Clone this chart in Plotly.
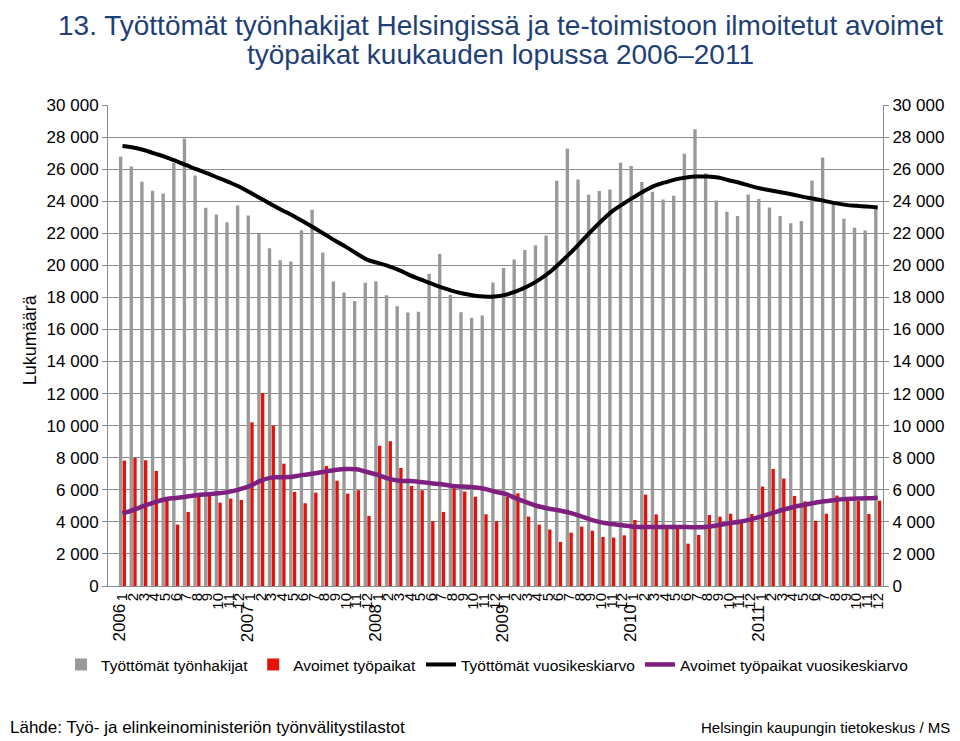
import plotly.graph_objects as go

years = [2006, 2007, 2008, 2009, 2010, 2011]
months = [str(m) for m in range(1, 13)]

unemployed = [
    26770, 26170, 25210, 24650, 24480, 26400, 27910, 25600, 23590, 23170, 22690, 23730,
    23110, 21960, 21070, 20320, 20240, 22190, 23460, 20800, 18990, 18300, 17780, 18910,
    19010, 18140, 17450, 17060, 17100, 19470, 20700, 18160, 17080, 16720, 16870, 18930,
    19840, 20360, 20950, 21260, 21860, 25270, 27270, 25360, 24400, 24630, 24730, 26400,
    26190, 25190, 24590, 24110, 24340, 26960, 28480, 25750, 24040, 23340, 23070, 24420,
    24130, 23610, 23070, 22630, 22760, 25290, 26730, 23860, 22900, 22340, 22170, 23570,
]
vacancies = [
    7820, 7990, 7840, 7180, 5370, 3830, 4620, 5580, 5660, 5200, 5450, 5370,
    10210, 12040, 10000, 7630, 5870, 5160, 5820, 7490, 6570, 5760, 5970, 4370,
    8740, 9030, 7360, 6240, 5970, 4040, 4620, 6100, 5890, 5570, 4470, 4040,
    5570, 5780, 4330, 3830, 3520, 2750, 3330, 3700, 3450, 3060, 3020, 3160,
    4120, 5700, 4470, 3650, 3700, 2640, 3180, 4430, 4330, 4510, 3950, 4490,
    6200, 7300, 6700, 5620, 5280, 4060, 4510, 5640, 5300, 5300, 4490, 5320,
]
unemployed_avg = [
    27440, 27350, 27190, 26980, 26770, 26520, 26250, 25980, 25730, 25460, 25190, 24900,
    24540, 24170, 23800, 23440, 23110, 22730, 22340, 21940, 21530, 21150, 20740, 20360,
    20150, 19950, 19700, 19390, 19120, 18870, 18620, 18410, 18240, 18120, 18050, 18050,
    18160, 18370, 18660, 19030, 19490, 20070, 20700, 21380, 22080, 22750, 23350, 23800,
    24220, 24620, 24960, 25170, 25360, 25480, 25540, 25540, 25480, 25310, 25150, 24960,
    24790, 24670, 24540, 24420, 24270, 24150, 24020, 23880, 23770, 23710, 23670, 23610,
]
vacancies_avg = [
    4530, 4740, 4990, 5220, 5410, 5490, 5570, 5660, 5720, 5780, 5870, 6030,
    6240, 6570, 6760, 6780, 6820, 6930, 7020, 7130, 7240, 7300, 7280, 7110,
    6930, 6700, 6570, 6550, 6490, 6410, 6340, 6240, 6200, 6160, 6070, 5890,
    5740, 5470, 5220, 4990, 4830, 4720, 4580, 4370, 4140, 3970, 3870, 3790,
    3700, 3680, 3680, 3680, 3680, 3680, 3660, 3700, 3790, 3910, 4010, 4140,
    4330, 4530, 4740, 4910, 5050, 5180, 5280, 5370, 5430, 5450, 5470, 5510,
]
y_ticks = list(range(0, 30001, 2000))
y_ticktext = [f"{v:,}".replace(",", " ") for v in y_ticks]

categories = [f"{y}-{m}" for y in years for m in months]
month_labels = [m for y in years for m in months]

FONT = "Liberation Sans, Arial, sans-serif"
GRID = "#8a8a8a"

fig = go.Figure()
fig.add_trace(go.Bar(x=categories, y=unemployed, name="Työttömät työnhakijat",
                     marker=dict(color="#999999", line_width=0)))
fig.add_trace(go.Bar(x=categories, y=vacancies, name="Avoimet työpaikat",
                     marker=dict(color="#E3120B", line_width=0)))
fig.add_trace(go.Scatter(x=categories, y=unemployed_avg, name="Työttömät vuosikeskiarvo",
                         mode="lines", line=dict(color="#000000", width=4, shape="spline"),
                         yaxis="y2"))
fig.add_trace(go.Scatter(x=categories, y=vacancies_avg, name="Avoimet työpaikat vuosikeskiarvo",
                         mode="lines", line=dict(color="#7F1F7F", width=4.5, shape="spline"),
                         yaxis="y2"))

axis_common = dict(range=[0, 30000], tickvals=y_ticks, ticktext=y_ticktext,
                   showline=True, linecolor=GRID, linewidth=1, ticks="outside",
                   ticklen=5, tickcolor=GRID, tickfont=dict(size=17, color="#000"),
                   zeroline=False)

# page body adds an 8px offset, so the figure is 8px smaller than the window
fig.update_layout(
    width=952, height=733,
    margin=dict(l=100, r=77, t=97, b=155),
    paper_bgcolor="white", plot_bgcolor="white",
    font=dict(family=FONT, color="#000"),
    barmode="group", bargap=0.3, bargroupgap=0.1,
    showlegend=True,
    legend=dict(orientation="h", x=-0.0606, xanchor="left", y=-0.164, yanchor="middle",
                font=dict(size=15.5), itemwidth=30, traceorder="normal"),
    xaxis=dict(type="category", tickvals=categories, ticktext=month_labels,
               tickangle=-90, tickfont=dict(size=15), showline=True, linecolor=GRID,
               showgrid=False, ticks=""),
    yaxis=dict(showgrid=True, gridcolor=GRID, gridwidth=1, **axis_common),
    yaxis2=dict(overlaying="y", side="right", showgrid=False, **axis_common),
)

annotations = [
    dict(text="13. Työttömät työnhakijat Helsingissä ja te-toimistoon ilmoitetut avoimet",
         xref="paper", yref="paper", x=0.506, y=1.2017, xanchor="center", yanchor="top",
         showarrow=False, font=dict(size=28, color="#1F3F78")),
    dict(text="työpaikat kuukauden lopussa 2006–2011",
         xref="paper", yref="paper", x=0.506, y=1.105, xanchor="center", yanchor="middle",
         showarrow=False, font=dict(size=28, color="#1F3F78")),
    dict(text="Lukumäärä", xref="paper", yref="paper", x=-0.1006, y=0.511,
         xanchor="center", yanchor="middle",
         textangle=-90, showarrow=False, font=dict(size=18)),
    dict(text="Lähde: Työ- ja elinkeinoministeriön työnvälitystilastot", xref="paper", yref="paper",
         x=-0.129, y=-0.295, xanchor="left", yanchor="middle", showarrow=False,
         font=dict(size=17)),
    dict(text="Helsingin kaupungin tietokeskus / MS", xref="paper", yref="paper",
         x=1.089, y=-0.295, xanchor="right", yanchor="middle", showarrow=False,
         font=dict(size=15)),
]
for y in years:
    annotations.append(dict(text=str(y), xref="x", yref="paper", x=f"{y}-1", y=-0.077,
                            textangle=-90, showarrow=False, font=dict(size=17),
                            xanchor="center", yanchor="middle", xshift=-3))
fig.update_layout(annotations=annotations)

fig.write_html("out.html")
